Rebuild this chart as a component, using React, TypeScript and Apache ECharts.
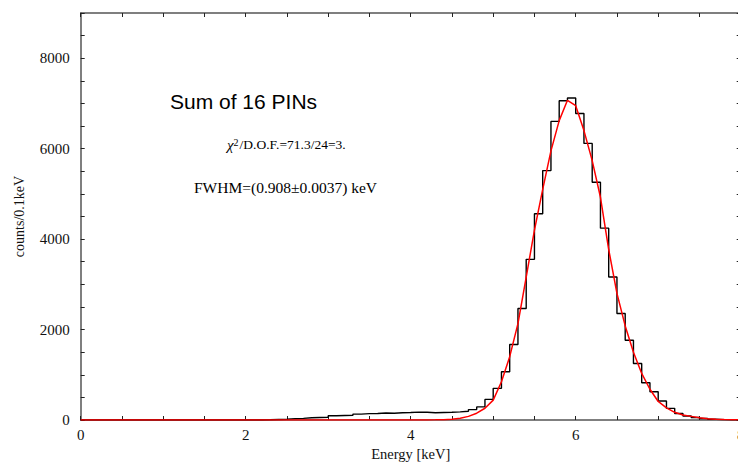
import React, { useEffect, useRef } from "react";
import * as echarts from "echarts";

// Histogram: counts per 0.1 keV bin, bins starting at 0.0, 0.1, ... 7.9 keV
const binWidth = 0.1;
const counts = [
  0, 0, 0, 0, 0, 0, 0, 0, 0, 0,
  0, 0, 0, 0, 0, 0, 0, 0, 0, 0,
  0, 0, 5, 12, 15, 30, 35, 50, 55, 60,
  95, 100, 105, 130, 140, 145, 155, 150, 160, 165,
  175, 170, 160, 165, 170, 180, 195, 230, 290, 455,
  700, 1066, 1670, 2464, 3552, 4560, 5515, 6603, 7059, 7119,
  6779, 6117, 5257, 4242, 3161, 2354, 1765, 1251, 823, 624,
  420, 258, 145, 90, 55, 32, 15, 8, 4, 2,
];

// Fit curve sampled every 0.1 keV from 0.0 to 8.0 keV
const fitStep = 0.1;
const fitValues = [
  0, 0, 0, 0, 0, 0, 0, 0, 0, 0,
  0, 0, 0, 0, 0, 0, 0, 0, 0, 0,
  0, 0, 0, 0, 0, 0, 0, 0, 0, 0,
  0, 0, 0, 0, 0, 0, 0, 0, 0, 0,
  0, 0, 0, 3, 8, 18, 40, 80, 150, 260,
  440, 845, 1400, 2130, 3160, 4200, 5100, 5950, 6620, 7070,
  6950, 6400, 5735, 4925, 3770, 2800, 2080, 1500, 1030, 680,
  410, 270, 170, 110, 80, 50, 30, 18, 10, 5,
  2,
];

const xTickLabels = [0, 2, 4, 6, 8];
const yTickLabels = [0, 2000, 4000, 6000, 8000];

const titleText = "Sum of 16 PINs";
const chiText = "/D.O.F.=71.3/24=3.";
const fwhmText = "FWHM=(0.908\u00b10.0037) keV";

const serif = "'Liberation Serif', 'DejaVu Serif', serif";
const sans = "'Liberation Sans', Arial, sans-serif";

export default function App() {
  const ref = useRef<HTMLDivElement>(null);

  useEffect(() => {
    if (!ref.current) return;
    const chart = echarts.init(ref.current, null, { renderer: "svg" });

    const histData: number[][] = counts.map((c, i) => [
      Number((i * binWidth).toFixed(2)),
      c,
    ]);
    histData.push([
      Number((counts.length * binWidth).toFixed(2)),
      counts[counts.length - 1],
    ]);
    const fitData: number[][] = fitValues.map((v, i) => [
      Number((i * fitStep).toFixed(2)),
      v,
    ]);

    const axisLineStyle = { color: "#555", width: 1.5 };
    const tickStyle = { color: "#222", width: 1 };

    const xBase = {
      type: "value" as const,
      min: 0,
      max: 8,
      interval: 0.5,
      splitLine: { show: false },
      axisLine: { show: true, onZero: false, lineStyle: axisLineStyle },
      axisTick: { show: true, inside: true, length: 4, lineStyle: tickStyle },
    };
    const yBase = {
      type: "value" as const,
      min: 0,
      max: 9000,
      interval: 500,
      splitLine: { show: false },
      axisLine: { show: true, onZero: false, lineStyle: axisLineStyle },
      axisTick: { show: true, inside: true, length: 4, lineStyle: tickStyle },
    };

    chart.setOption({
      animation: false,
      grid: {
        left: 80.7,
        top: 13,
        width: 660,
        height: 407,
        containLabel: false,
        outerBoundsMode: "none",
      },
      xAxis: [
        {
          ...xBase,
          position: "bottom",
          axisLabel: {
            interval: 0,
            margin: 7,
            color: "#111",
            fontFamily: serif,
            fontSize: 15,
            formatter: (v: number) =>
              xTickLabels.indexOf(v) >= 0 ? String(v) : "",
          },
          name: "Energy [keV]",
          nameLocation: "middle",
          nameGap: 25,
          nameTextStyle: { color: "#111", fontFamily: serif, fontSize: 14.5 },
        },
        {
          ...xBase,
          position: "top",
          axisLabel: { show: false },
        },
      ],
      yAxis: [
        {
          ...yBase,
          position: "left",
          axisLabel: {
            interval: 0,
            margin: 11,
            color: "#111",
            fontFamily: serif,
            fontSize: 15,
            formatter: (v: number) =>
              yTickLabels.indexOf(v) >= 0 ? String(v) : "",
          },
          name: "counts/0.1keV",
          nameLocation: "middle",
          nameGap: 54,
          nameTextStyle: { color: "#111", fontFamily: serif, fontSize: 14 },
        },
        {
          ...yBase,
          position: "right",
          axisLabel: { show: false },
        },
      ],
      series: [
        {
          type: "line",
          name: "data",
          step: "end",
          data: histData,
          symbol: "none",
          lineStyle: { color: "#000", width: 1.4 },
          z: 2,
        },
        {
          type: "line",
          name: "fit",
          data: fitData,
          symbol: "none",
          smooth: false,
          lineStyle: { color: "#ff0000", width: 1.5 },
          z: 3,
        },
      ],
      graphic: [
        {
          type: "text",
          left: 170,
          top: 91,
          style: {
            text: titleText,
            fontFamily: sans,
            fontSize: 21,
            fill: "#000",
          },
        },
        {
          type: "text",
          left: 227,
          top: 137,
          style: {
            text: "{c|\u03c7}{s|2}{t|" + chiText + "}",
            fill: "#000",
            rich: {
              c: { fontFamily: serif, fontStyle: "italic", fontSize: 15, fill: "#000" },
              s: { fontFamily: serif, fontSize: 10, verticalAlign: "top", fill: "#000", padding: [0, 1, 0, 0] },
              t: { fontFamily: serif, fontSize: 13.5, fill: "#000" },
            },
          },
        },
        {
          type: "text",
          left: 194,
          top: 179,
          style: {
            text: fwhmText,
            fontFamily: serif,
            fontSize: 15.5,
            fill: "#000",
          },
        },
      ],
    });

    return () => {
      chart.dispose();
    };
  }, []);

  return (
    <div
      ref={ref}
      style={{ position: "fixed", left: 0, top: 0, width: 738, height: 464, background: "#fff" }}
    />
  );
}
